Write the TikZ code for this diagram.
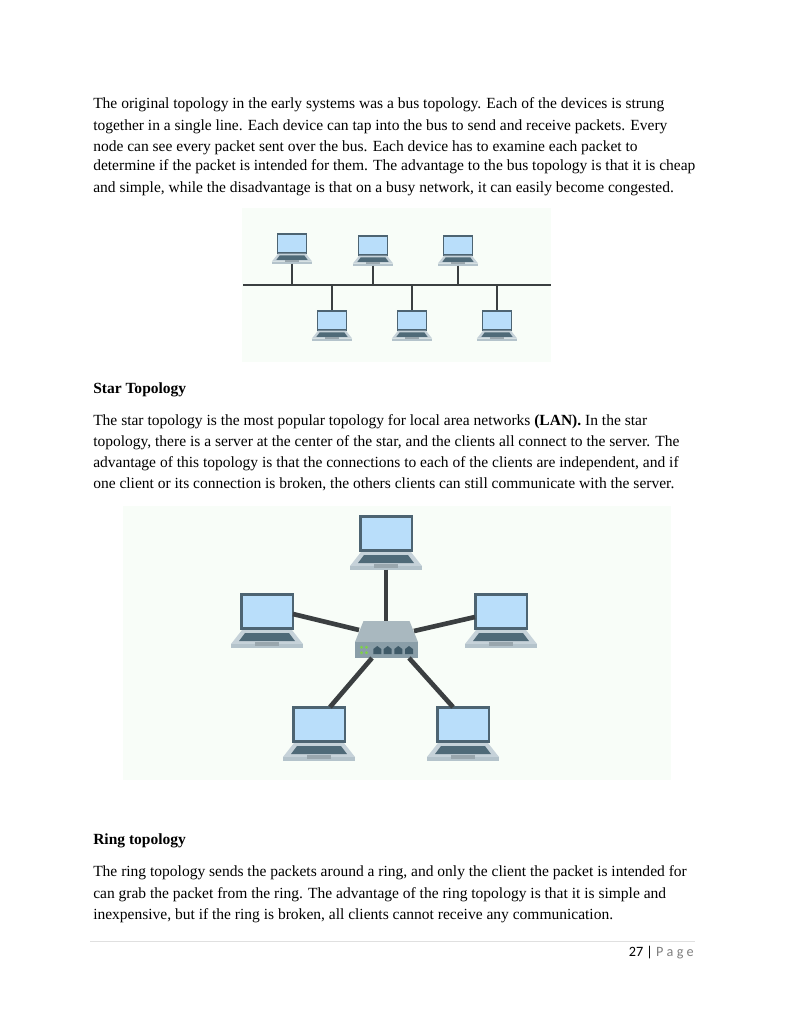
\documentclass[tikz,border=0pt]{standalone}
\usepackage{fontspec}
\setmainfont{Liberation Serif}
\newfontfamily\footfont{Carlito}
\definecolor{panelbg}{HTML}{F8FDF8}
\definecolor{framecol}{HTML}{4D6472}
\definecolor{screencol}{HTML}{B9DEFA}
\definecolor{basecol}{HTML}{C6D2D9}
\definecolor{edgecol}{HTML}{B4C3CB}
\definecolor{keycol}{HTML}{4F6A78}
\definecolor{wirecol}{HTML}{3B3F41}
\definecolor{switchtop}{HTML}{A9B8BF}
\definecolor{switchfront}{HTML}{8A9EA8}
\definecolor{portcol}{HTML}{3F5A68}
\definecolor{ledcol}{HTML}{7ED04B}
\tikzset{
	bodyline/.style={anchor=base west,inner sep=0pt,font=\fontsize{12}{14}\selectfont,text=black},
	busline/.style={wirecol,line width=2pt},
	dropline/.style={wirecol,line width=1.5pt},
	starline/.style={wirecol,line width=3.6pt},
	laptop/.pic={
		\fill[framecol] (-27,0) rectangle (27,37);
		\fill[screencol] (-24.5,3) rectangle (24.5,34);
		\fill[basecol] (-25,37) -- (25,37) -- (36,51) -- (-36,51) -- cycle;
		\fill[edgecol] (-36,51) rectangle (36,54.5);
		\fill[keycol] (-22,40) -- (22,40) -- (28,48) -- (-28,48) -- cycle;
		\fill[edgecol!85!black] (-12,49) rectangle (12,52.5);
		\coordinate (-top) at (0,0);
		\coordinate (-base) at (0,54.5);
	},
	netswitch/.pic={
		\fill[switchtop] (-23,0) -- (23,0) -- (31.5,21) -- (-31.5,21) -- cycle;
		\fill[switchfront] (-31.5,21) rectangle (31.5,37);
		\foreach \portx in {-9.2,1.2,11.8,22.5} {
			\fill[portcol] (\portx-4,33) -- ++(0,-5) -- ++(4,-3) -- ++(4,3) -- ++(0,5) -- cycle;
		}
		\foreach \ledx/\ledy in {-25/26.3,-20/26.3,-25/31.7,-20/31.7} {
			\fill[ledcol] (\ledx,\ledy) circle (1.6);
		}
		\coordinate (-top) at (0,0);
	}
}
\begin{document}
\begin{tikzpicture}[x=0.7737pt,y=-0.7737pt]
	\fill[white] (0,0) rectangle (791,1024);
	\useasboundingbox (0,0) rectangle (791,1024);
	% first paragraph
	\node[bodyline] (busA) at (93,108) {The original topology in the early systems was a bus topology. Each of the devices is strung};
	\node[bodyline] (busB) at (93,130) {together in a single line. Each device can tap into the bus to send and receive packets. Every};
	\node[bodyline] (busC) at (93,151) {node can see every packet sent over the bus. Each device has to examine each packet to};
	\node[bodyline] (busD) at (93,170) {determine if the packet is intended for them. The advantage to the bus topology is that it is cheap};
	\node[bodyline] (busE) at (93,192) {and simple, while the disadvantage is that on a busy network, it can easily become congested.};
	% bus panel
	\fill[panelbg] (242,208) rectangle (551,362);
	\pic (lapA) at (292,233) [scale=0.56] {laptop};
	\pic (lapB) at (373,235) [scale=0.56] {laptop};
	\pic (lapC) at (458,235) [scale=0.56] {laptop};
	\pic (lapD) at (332,310) [scale=0.56] {laptop};
	\pic (lapE) at (412,310) [scale=0.56] {laptop};
	\pic (lapF) at (497,310) [scale=0.56] {laptop};
	\coordinate (busW) at (243,285);
	\coordinate (busO) at (551,285);
	\draw[busline] (busW) -- (busO);
	\foreach \lap in {lapA,lapB,lapC} {
		\draw[dropline] (\lap-base) -- (\lap-base |- busW);
	}
	\foreach \lap in {lapD,lapE,lapF} {
		\draw[dropline] (\lap-top) -- (\lap-top |- busW);
	}
	% star text
	\node[bodyline,font=\fontsize{12}{14}\selectfont\bfseries] (starhead) at (93,393) {Star Topology};
	\node[bodyline] (starA) at (93,425) {The star topology is the most popular topology for local area networks \textbf{(LAN).} In the star};
	\node[bodyline] (starB) at (93,446) {topology, there is a server at the center of the star, and the clients all connect to the server. The};
	\node[bodyline] (starC) at (93,467) {advantage of this topology is that the connections to each of the clients are independent, and if};
	\node[bodyline] (starD) at (93,488) {one client or its connection is broken, the others clients can still communicate with the server.};
	% star panel
	\fill[panelbg] (123,506) rectangle (671,780);
	\pic (lapTop) at (386,515) {laptop};
	\pic (lapLeft) at (267,593) {laptop};
	\pic (lapRight) at (501,593) {laptop};
	\pic (lapLow) at (319,706) {laptop};
	\pic (lapHigh) at (463,706) {laptop};
	\coordinate (tapLeft) at (293,614);
	\coordinate (hubLeft) at (359,630);
	\coordinate (tapRight) at (475,617);
	\coordinate (hubRight) at (414,631);
	\coordinate (tapLow) at (330,707);
	\coordinate (hubLow) at (372,658);
	\coordinate (tapHigh) at (453,707);
	\coordinate (hubHigh) at (409,658);
	\pic (hub) at (386.5,621) {netswitch};
	\draw[starline] (lapTop-base) -- (lapTop-base |- hub-top);
	\draw[starline] (tapLeft) -- (hubLeft);
	\draw[starline] (tapRight) -- (hubRight);
	\draw[starline] (tapLow) -- (hubLow);
	\draw[starline] (tapHigh) -- (hubHigh);
	% ring text
	\node[bodyline,font=\fontsize{12}{14}\selectfont\bfseries] (ringhead) at (93,844) {Ring topology};
	\node[bodyline] (ringA) at (93,876) {The ring topology sends the packets around a ring, and only the client the packet is intended for};
	\node[bodyline] (ringB) at (93,898) {can grab the packet from the ring. The advantage of the ring topology is that it is simple and};
	\node[bodyline] (ringC) at (93,919) {inexpensive, but if the ring is broken, all clients cannot receive any communication.};
	% footer
	\coordinate (ruleW) at (90,941);
	\coordinate (ruleO) at (695,941);
	\draw[black!12,line width=0.7pt] (ruleW) -- (ruleO);
	\node[anchor=base east,inner sep=0pt,font=\footfont\fontsize{11}{13}\selectfont] (pagenum) at (694,956) {27 | \textcolor{black!50}{P a g e}};
\end{tikzpicture}
\end{document}
